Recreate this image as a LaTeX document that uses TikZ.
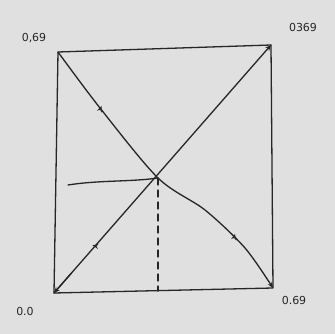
\documentclass[tikz,border=0pt]{standalone}
\usepackage{fontspec}
\setmainfont{DejaVu Sans}
\usetikzlibrary{arrows.meta,calc,decorations.markings}
\begin{document}
\begin{tikzpicture}[x=1pt,y=-1pt,
  pen/.style={draw=black!85,line width=1.3pt,line cap=round,line join=round},
  lbl/.style={font=\fontsize{11}{11}\selectfont,text=black!85,inner sep=0pt},
  tip/.style={-{Stealth[length=6pt,width=5pt]}},
  barb/.style={postaction={decorate,decoration={markings,
     mark=at position #1 with {\draw[line width=1.3pt,black!85] (0,0) -- (-1.5pt,2.5pt);}}}}]
\fill[black!12] (0,0) rectangle (335,334);
\useasboundingbox (0,0) rectangle (335,334);
\coordinate (TL) at (58,52);
\coordinate (TR) at (271,45);
\coordinate (BL) at (54,293);
\coordinate (BR) at (273,288);
\coordinate (X) at (158,178);
\coordinate (H) at (68,185);
\coordinate (D) at (158,291);
% frame
\draw[pen] (BL) -- (TL) -- (TR);
\draw[pen] (TR) -- (BR) -- (BL);
% diagonal with arrowheads
\draw[pen,tip,barb=0.19] (BL) -- (TR);
\draw[pen,{Stealth[length=6pt,width=5pt]}-] (BL) -- ($(BL)!0.08!(TR)$);
% curve
\draw[pen,tip,barb=0.22,barb=0.8] plot[smooth,tension=0.5] coordinates {(58,52) (100,108) (158,178) (205,210) (245,248) (273,288)};
% guide lines
\draw[pen] (H) .. controls (100,180) and (130,182) .. (X);
\draw[pen,dashed,dash pattern=on 7pt off 5pt] (X) -- (D);
% labels
\node[lbl] (l1) at (34,38) {0,69};
\node[lbl] (l2) at (303,27) {0369};
\node[lbl] (l3) at (25,311) {0.0};
\node[lbl] (l4) at (294,300) {0.69};
\end{tikzpicture}
\end{document}
